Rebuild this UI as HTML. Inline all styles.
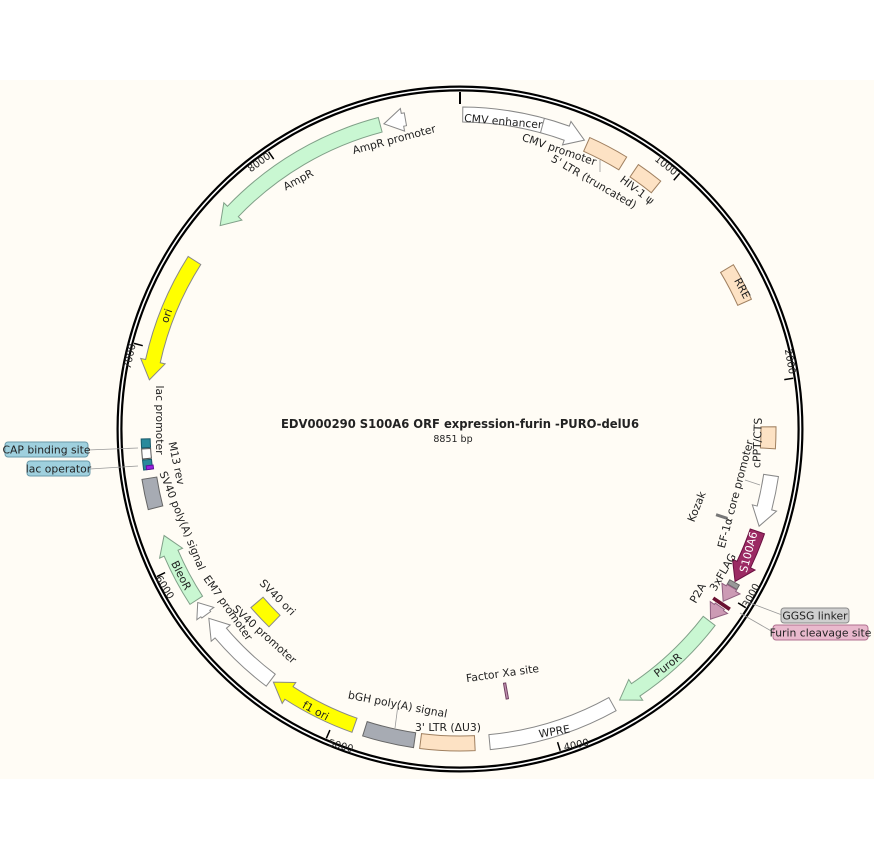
<!DOCTYPE html>
<html><head><meta charset="utf-8"><style>
html,body{margin:0;padding:0;background:#fff;}
svg{display:block;}
text{font-family:"DejaVu Sans","Liberation Sans",sans-serif;font-size:10.8px;fill:#222;}
</style></head><body>
<svg id="s" width="874" height="860" viewBox="0 0 874 860" xmlns="http://www.w3.org/2000/svg">
<rect x="0" y="80" width="874" height="699" fill="#fffcf5"/>
<circle cx="460" cy="429" r="340.5" fill="none" stroke="#000" stroke-width="6"/>
<circle cx="460" cy="429" r="340.5" fill="none" stroke="#fff" stroke-width="1.6"/>
<g id="shapes"></g>
<g>
<text x="460" y="428" text-anchor="middle" style="font-weight:bold;font-size:12px" textLength="358" lengthAdjust="spacingAndGlyphs">EDV000290 S100A6 ORF expression-furin -PURO-delU6</text>
<text x="453" y="442" text-anchor="middle" style="font-size:9.5px">8851  bp</text>

<text transform="translate(503,125) rotate(5)" text-anchor="middle">CMV enhancer</text>
<text transform="translate(558,153) rotate(19)" text-anchor="middle">CMV promoter</text>
<text transform="translate(592,185) rotate(30)" text-anchor="middle">5' LTR (truncated)</text>
<text transform="translate(635,193) rotate(37)" text-anchor="middle">HIV-1 ψ</text>
<text transform="translate(664,168) rotate(38)" text-anchor="middle" style="font-size:10px">1000</text>
<text transform="translate(395,143) rotate(-15)" text-anchor="middle">AmpR promoter</text>
<text transform="translate(300,183) rotate(-28)" text-anchor="middle">AmpR</text>
<text transform="translate(261,165) rotate(-36)" text-anchor="middle" style="font-size:10px">8000</text>
<text transform="translate(170,317) rotate(-70)" text-anchor="middle">ori</text>
<text transform="translate(133,357) rotate(-78)" text-anchor="middle" style="font-size:10px">7000</text>
<text transform="translate(739,290) rotate(62)" text-anchor="middle">RRE</text>
<text transform="translate(787,362) rotate(80)" text-anchor="middle" style="font-size:10px">2000</text>
<text transform="translate(761,443) rotate(-88)" text-anchor="middle">cPPT/CTS</text>
<text transform="translate(739,495) rotate(-75)" text-anchor="middle">EF-1α core promoter</text>
<text transform="translate(700,508) rotate(-68)" text-anchor="middle">Kozak</text>
<text transform="translate(752,553) rotate(-75)" text-anchor="middle" style="fill:#fff">S100A6</text>
<text transform="translate(726,574) rotate(-60)" text-anchor="middle">3xFLAG</text>
<text transform="translate(701,595) rotate(-60)" text-anchor="middle">P2A</text>
<text transform="translate(754,597) rotate(-62)" text-anchor="middle" style="font-size:10px">3000</text>
<text transform="translate(670,668) rotate(-38)" text-anchor="middle">PuroR</text>
<text transform="translate(503,677) rotate(-8)" text-anchor="middle">Factor Xa site</text>
<text transform="translate(555,735) rotate(-10)" text-anchor="middle">WPRE</text>
<text transform="translate(577,748) rotate(-12)" text-anchor="middle" style="font-size:10px">4000</text>
<text transform="translate(448,731)" text-anchor="middle">3' LTR (ΔU3)</text>
<text transform="translate(397,708) rotate(11)" text-anchor="middle">bGH poly(A) signal</text>
<text transform="translate(340,749) rotate(15)" text-anchor="middle" style="font-size:10px">5000</text>
<text transform="translate(314,714) rotate(28)" text-anchor="middle">f1 ori</text>
<text transform="translate(262,637) rotate(42)" text-anchor="middle">SV40 promoter</text>
<text transform="translate(275,600) rotate(45)" text-anchor="middle">SV40 ori</text>
<text transform="translate(225,610) rotate(55)" text-anchor="middle">EM7 promoter</text>
<text transform="translate(179,522) rotate(68)" text-anchor="middle">SV40 poly(A) signal</text>
<text transform="translate(178,577) rotate(63)" text-anchor="middle">BleoR</text>
<text transform="translate(162,589) rotate(58)" text-anchor="middle" style="font-size:10px">6000</text>
<text transform="translate(173,464) rotate(78)" text-anchor="middle">M13 rev</text>
<text transform="translate(156,420) rotate(90)" text-anchor="middle">lac promoter</text>

<line x1="88" y1="450" x2="138" y2="448" stroke="#999" stroke-width="0.8"/>
<line x1="90" y1="469" x2="138" y2="466" stroke="#999" stroke-width="0.8"/>
<line x1="745" y1="601" x2="782" y2="615" stroke="#999" stroke-width="0.8"/>
<line x1="740" y1="613" x2="773" y2="632" stroke="#999" stroke-width="0.8"/>
<line x1="600" y1="160" x2="600" y2="172" stroke="#999" stroke-width="0.8"/>
<line x1="398" y1="705" x2="395" y2="728" stroke="#999" stroke-width="0.8"/>
<line x1="745" y1="480" x2="760" y2="485" stroke="#999" stroke-width="0.8"/>

<rect x="5" y="442" width="83" height="15" rx="3" fill="#9fd0de" stroke="#6a9aaa"/>
<text x="46.5" y="453.5" text-anchor="middle">CAP binding site</text>
<rect x="27" y="461" width="63" height="15" rx="3" fill="#9fd0de" stroke="#6a9aaa"/>
<text x="58.5" y="472.5" text-anchor="middle">lac operator</text>
<rect x="781" y="608" width="68" height="15" rx="3" fill="#cfcfcf" stroke="#8a8a8a"/>
<text x="815" y="619.5" text-anchor="middle">GGSG linker</text>
<rect x="773" y="625" width="95" height="15" rx="3" fill="#e9b9cd" stroke="#b07090"/>
<text x="820.5" y="636.5" text-anchor="middle">Furin cleavage site</text>
</g>
</svg>
<script>
(function(){
var cx=460,cy=429,NS="http://www.w3.org/2000/svg",g=document.getElementById("shapes");
function P(r,a){var t=a*Math.PI/180;return (cx+r*Math.sin(t)).toFixed(2)+","+(cy-r*Math.cos(t)).toFixed(2);}
function add(d,fill,stroke,sw){var p=document.createElementNS(NS,"path");p.setAttribute("d",d);p.setAttribute("fill",fill);p.setAttribute("stroke",stroke||"#888");p.setAttribute("stroke-width",sw||1);g.appendChild(p);}
function arc(r,a1,a2){var l=Math.abs(a2-a1)>180?1:0;var sw=a2>a1?1:0;return " A"+r+","+r+" 0 "+l+","+sw+" "+P(r,a2);}
function box(a1,a2,r1,r2,f,s){add("M"+P(r2,a1)+arc(r2,a1,a2)+" L"+P(r1,a2)+arc(r1,a2,a1)+" Z",f,s);}
function arrow(a1,a2,r1,r2,cw,f,s){var rm=(r1+r2)/2,h=Math.min(19/rm*180/Math.PI,(a2-a1)*0.9),w=5,d;
 if(cw){var b=a2-h;d="M"+P(r2,a1)+arc(r2,a1,b)+" L"+P(r2+w,b)+" L"+P(rm,a2)+" L"+P(r1-w,b)+" L"+P(r1,b)+arc(r1,b,a1)+" Z";}
 else{var b=a1+h;d="M"+P(r2,a2)+arc(r2,a2,b)+" L"+P(r2+w,b)+" L"+P(rm,a1)+" L"+P(r1-w,b)+" L"+P(r1,b)+arc(r1,b,a2)+" Z";}
 add(d,f,s);}
for(var i=0;i<9;i++){var a=i*1000/8851*360;var r0=337,r1=i==0?325:328;add("M"+P(r0,a)+" L"+P(r1,a),"none","#000",i==0?2:1.5);}
var R1=307,R2=322,W="#fff",PE="#fde2c4",GR="#c9f7d2",YE="#ffff00",GY="#a7abb3",PK="#cc9ab4";
arrow(0.5,23.3,R1,R2,1,W);
add("M"+P(R1,15.2)+" L"+P(R2,15.2),"none","#888");
box(24,31.5,R1-3,R2-3,PE,"#a08060");
box(34,39,R1-3,R2-3,PE,"#a08060");
box(59,66,R1-3,R2-3,PE,"#a08060");
box(89.6,93.6,R1-6,R2-6,PE,"#a08060");
arrow(98.5,108,R1,R2,1,W);
arrow(109,119,R1,R2,1,"#9b2a63","#6a1040");
box(119.2,120.1,R1+2,R2-2,"#999","#666");
arrow(120.2,123.2,R1+2,R2-2,1,PK,"#906080");
box(123.5,124,R1-2,R2+2,"#6a1030","#6a1030");
arrow(124.3,127.2,R1+2,R2-2,1,PK,"#906080");
arrow(127.6,149.5,R1,R2,1,GR,"#80a088");
box(151,174.6,R1,R2,W);
box(169.8,170.3,258,274,"#c090b0","#704060");
box(177.3,187.2,R1,R2,PE,"#a08060");
box(188.3,197.6,R1,R2,GY,"#666");
arrow(199.6,216.4,R1,R2,1,YE,"#888");
arrow(217,233,R1,R2,1,W);
box(224,229.5,259,275,YE,"#888");
arrow(233.8,236.5,R1+2,R2-2,1,W);
arrow(237,250.2,R1,R2,1,GR,"#80a088");
box(255.5,261,R1,R2,GY,"#666");
box(262.6,264.4,R1+3,R2-3,"#2a8a9c","#1a5a6a");
box(262.6,263.3,R1+2,R2-6,"#9a20e0","#6010a0");
box(264.6,266.4,R1+3,R2-3,"#fff","#555");
box(266.6,268.2,R1+3,R2-3,"#2a8a9c","#1a5a6a");
arrow(279,302.4,R1,R2,0,YE,"#888");
arrow(310.3,345.3,R1,R2,0,GR,"#80a088");
arrow(346,350,R1+1,R2-1,0,W);
add("M"+P(270,108.5)+" L"+P(282,108.5),"none","#777",3);
})();
</script>
</body></html>
